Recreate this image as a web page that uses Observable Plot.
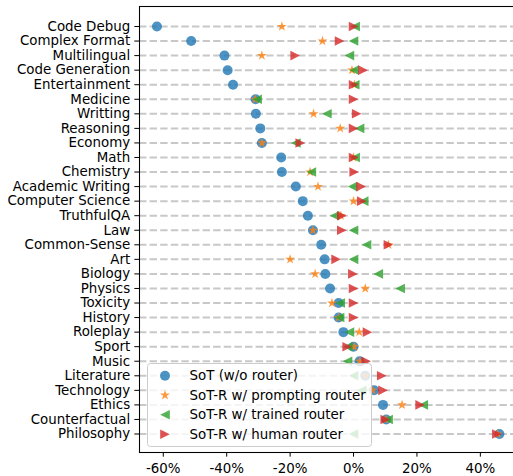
<!DOCTYPE html>
<html>
<head>
<meta charset="utf-8">
<script src="https://cdn.jsdelivr.net/npm/d3@7"></script>
<script src="https://cdn.jsdelivr.net/npm/@observablehq/plot@0.6"></script>
<style>
  html, body { margin: 0; padding: 0; background: white; }
  #c { width: 513px; height: 476px; overflow: hidden; position: relative; }
  #c svg { max-width: none !important; }
</style>
</head>
<body>
<div id="c"></div>
<script>
const categories = ["Code Debug","Complex Format","Multilingual","Code Generation","Entertainment","Medicine","Writting","Reasoning","Economy","Math","Chemistry","Academic Writing","Computer Science","TruthfulQA","Law","Common-Sense","Art","Biology","Physics","Toxicity","History","Roleplay","Sport","Music","Literature","Technology","Ethics","Counterfactual","Philosophy"];

const sot       = [-62.0, -51.2, -40.7, -39.7, -38.0, -30.9, -30.8, -29.4, -28.9, -22.8, -22.6, -18.2, -16.0, -14.4, -12.8, -10.2, -9.1, -8.9, -7.4, -4.7, -4.7, -3.2, 0.0, 1.9, 3.7, 6.5, 9.3, 10.3, 46.0];
const prompting = [-22.6, -9.8, -28.9, -0.5, 0.3, -31.0, -12.6, -4.2, -28.9, 0.0, -13.7, -11.2, 0.0, -4.0, -12.8, 11.0, -20.0, -12.1, 3.7, -6.8, -4.7, 1.8, 0.2, 2.0, 3.7, 6.0, 15.3, 10.2, 45.5];
const trained   = [0.5, 0.0, -1.3, 0.2, 0.4, -30.4, -8.4, 1.9, -18.2, 0.5, -13.3, -0.3, 3.2, -6.0, 0.0, 4.1, 0.0, 7.8, 14.7, -4.2, -4.4, -1.3, -1.8, -1.9, 0.0, 2.6, 22.0, 10.9, 0.0];
const human     = [0.0, -4.4, -18.4, 3.0, 0.0, 0.0, 1.0, 0.0, -16.8, 0.0, 0.2, 2.4, 2.6, -3.7, -3.7, 11.0, -5.5, -0.2, 0.0, 0.0, 0.0, 4.4, -2.0, 4.0, 8.9, 9.3, 21.0, 10.0, 45.2];

const seriesNames = ["SoT (w/o router)", "SoT-R w/ prompting router", "SoT-R w/ trained router", "SoT-R w/ human router"];
const seriesColors = ["#1f77b4", "#ff7f0e", "#2ca02c", "#d62728"];
const xTicks = [-60, -40, -20, 0, 20, 40];

// custom marker shapes (matplotlib-like)
const rOf = size => Math.sqrt(size / Math.PI);
const triRight = { draw(ctx, size) { const r = rOf(size); ctx.moveTo(r, 0); ctx.lineTo(-r, r); ctx.lineTo(-r, -r); ctx.closePath(); } };
const triLeft  = { draw(ctx, size) { const r = rOf(size); ctx.moveTo(-r, 0); ctx.lineTo(r, -r); ctx.lineTo(r, r); ctx.closePath(); } };
const star5 = { draw(ctx, size) {
  const R = rOf(size), ri = R * 0.381966;
  for (let i = 0; i < 10; i++) {
    const rad = i % 2 === 0 ? R : ri;
    const a = -Math.PI / 2 + i * Math.PI / 5;
    const px = rad * Math.cos(a), py = rad * Math.sin(a);
    if (i === 0) ctx.moveTo(px, py); else ctx.lineTo(px, py);
  }
  ctx.closePath();
} };
const symbols = ["circle", star5, triLeft, triRight];
const radii = [5, 5.2, 4.8, 4.8];
const seriesValues = [sot, prompting, trained, human];

const idx = categories.map((_, i) => i);
const n = categories.length;

const dotMarks = seriesValues.map((vals, s) =>
  Plot.dot(idx, {
    x: i => vals[i],
    y: i => i,
    symbol: symbols[s],
    r: radii[s],
    fill: seriesColors[s],
    fillOpacity: 0.8,
    stroke: "none"
  })
);

// category index scale with matplotlib-like row margins
const H = 476, mTop = 6, mBottom = 24;
const step = (433.5 - 26) / (n - 1);
const yDomain = [-(26 - mTop) / step, (n - 1) + ((H - mBottom) - 433.5) / step];

const plot = Plot.plot({
  width: 517,
  height: H,
  marginLeft: 139,
  marginRight: 1,
  marginTop: mTop,
  marginBottom: mBottom,
  style: { fontFamily: "DejaVu Sans", fontSize: "13.4px", color: "black", background: "white" },
  x: { domain: [-67.5, 51.4] },
  y: { type: "linear", domain: yDomain, reverse: true, nice: false, zero: false },
  marks: [
    Plot.ruleY(idx, { y: i => i, stroke: "#c8c8c8", strokeWidth: 2, strokeDasharray: "7.4,3.2" }),
    ...dotMarks,
    Plot.frame({ stroke: "black", strokeWidth: 1.07 }),
    Plot.axisX({ ticks: xTicks, tickFormat: d => d + "%", tickSize: 4.67, tickPadding: 6.5, fontSize: "13.4px", label: null }),
    Plot.axisY({ ticks: idx, tickFormat: i => categories[i], tickSize: 4.67, tickPadding: 4.67, fontSize: "13.4px", label: null })
  ]
});

document.getElementById("c").appendChild(plot);

// legend overlay (matplotlib style, semi-transparent box)
const svg = d3.select(plot);
const lg = svg.append("g").attr("font-family", "DejaVu Sans").attr("font-size", "13.4px").attr("text-anchor", "start");
lg.append("rect")
  .attr("x", 147.5).attr("y", 363.5).attr("width", 224).attr("height", 83)
  .attr("rx", 3).attr("ry", 3)
  .attr("fill", "white").attr("fill-opacity", 0.8)
  .attr("stroke", "#cccccc").attr("stroke-width", 1);
const rowY = [375.7, 395.2, 414.8, 434.3];
seriesNames.forEach((name, s) => {
  const g = lg.append("g").attr("transform", `translate(165,${rowY[s]})`);
  if (symbols[s] === "circle") {
    g.append("circle").attr("r", radii[s]).attr("fill", seriesColors[s]).attr("fill-opacity", 0.8);
  } else {
    g.append("path").attr("d", d3.symbol().type(symbols[s]).size(radii[s] * radii[s] * Math.PI)())
      .attr("fill", seriesColors[s]).attr("fill-opacity", 0.8);
  }
  lg.append("text").attr("x", 189.5).attr("y", rowY[s]).attr("dy", "0.35em")
    .attr("text-anchor", "start").attr("fill", "black").text(name);
});
</script>
</body>
</html>
